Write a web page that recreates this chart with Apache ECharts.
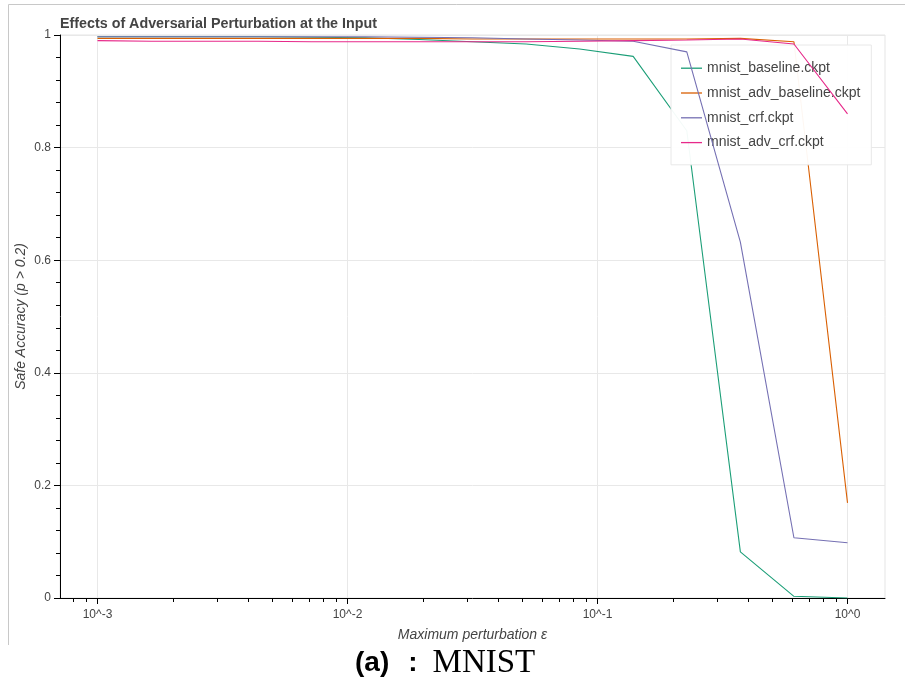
<!DOCTYPE html>
<html><head><meta charset="utf-8">
<script src="https://cdn.jsdelivr.net/npm/echarts@6/dist/echarts.min.js"></script>
<style>html,body{margin:0;padding:0;background:#fff}#c{width:905px;height:686px}</style>
</head><body><div id="c"></div>
<script>
// Data
const epsilons = [0.001, 0.00164, 0.00268, 0.00439, 0.0072, 0.01179, 0.0193, 0.0316, 0.0518, 0.0848, 0.1389, 0.2276, 0.3728, 0.6105, 1.0];
const seriesNames = ['mnist_baseline.ckpt', 'mnist_adv_baseline.ckpt', 'mnist_crf.ckpt', 'mnist_adv_crf.ckpt'];
const mnistBaseline   = [0.997, 0.997, 0.997, 0.997, 0.996, 0.995, 0.992, 0.988, 0.984, 0.975, 0.962, 0.83, 0.082, 0.003, 0.0];
const mnistAdvBaseline= [0.994, 0.994, 0.994, 0.994, 0.994, 0.994, 0.994, 0.993, 0.993, 0.993, 0.993, 0.993, 0.994, 0.988, 0.169];
const mnistCrf        = [0.997, 0.997, 0.997, 0.997, 0.997, 0.997, 0.996, 0.995, 0.993, 0.991, 0.989, 0.970, 0.632, 0.107, 0.098];
const mnistAdvCrf     = [0.990, 0.989, 0.989, 0.989, 0.988, 0.988, 0.988, 0.988, 0.988, 0.989, 0.990, 0.991, 0.993, 0.984, 0.86];
const xMajorTicks = [0.001, 0.01, 0.1, 1];
const xMinorTicks = [0.0008, 0.0009,
  0.002, 0.003, 0.004, 0.005, 0.006, 0.007, 0.008, 0.009,
  0.02, 0.03, 0.04, 0.05, 0.06, 0.07, 0.08, 0.09,
  0.2, 0.3, 0.4, 0.5, 0.6, 0.7, 0.8, 0.9];
const xTickLabels = ['10^-3', '10^-2', '10^-1', '10^0'];
const colors = ['#1b9e77', '#d95f02', '#7570b3', '#e7298a'];

const FONT = '"Liberation Sans", Helvetica, Arial, sans-serif';
const allValues = [mnistBaseline, mnistAdvBaseline, mnistCrf, mnistAdvCrf];

const chart = echarts.init(document.getElementById('c'), null, {renderer: 'canvas'});
chart.setOption({
  animation: false,
  backgroundColor: '#fff',
  textStyle: {fontFamily: FONT},
  title: {
    text: 'Effects of Adversarial Perturbation at the Input',
    left: 55, top: 12,
    textStyle: {fontSize: 14.3, fontWeight: 'bold', color: '#444', fontFamily: FONT}
  },
  grid: {left: 60, right: 20, top: 35, bottom: 88, show: true, borderColor: '#e5e5e5', borderWidth: 1, backgroundColor: 'transparent'},
  legend: {
    orient: 'vertical', left: 671, top: 45,
    padding: [15, 11, 14, 10],
    icon: 'rect',
    itemWidth: 21, itemHeight: 1.3, itemGap: 8.4,
    backgroundColor: 'rgba(255,255,255,0.95)',
    borderColor: '#e8e8e8', borderWidth: 1,
    textStyle: {fontSize: 14, color: '#444', fontFamily: FONT, lineHeight: 16.4},
    data: seriesNames
  },
  xAxis: [{
    type: 'log', logBase: 10, min: 0.000708, max: 1.4125,
    name: 'Maximum perturbation ε', nameLocation: 'middle', nameGap: 30,
    nameTextStyle: {fontStyle: 'italic', fontSize: 14, color: '#444', fontFamily: FONT},
    axisLine: {show: true, lineStyle: {color: '#000', width: 1}},
    axisTick: {show: true, length: 6, customValues: xMajorTicks, lineStyle: {color: '#000'}},
    axisLabel: {
      customValues: xMajorTicks, margin: 11, fontSize: 12, color: '#444', fontFamily: FONT,
      formatter: v => xTickLabels[xMajorTicks.findIndex(t => Math.abs(t - v) / t < 1e-6)] || ''
    },
    splitLine: {show: true, lineStyle: {color: '#e8e8e8', width: 1}},
    minorTick: {show: false}
  }, {
    type: 'log', logBase: 10, min: 0.000708, max: 1.4125, position: 'bottom',
    axisLine: {show: false},
    axisTick: {show: true, length: 4, customValues: xMinorTicks, lineStyle: {color: '#000'}},
    axisLabel: {show: false},
    splitLine: {show: false}
  }],
  yAxis: {
    type: 'value', min: 0, max: 1, interval: 0.2,
    name: 'Safe Accuracy (p > 0.2)', nameLocation: 'middle', nameGap: 32, nameMoveOverlap: false,
    nameTextStyle: {fontStyle: 'italic', fontSize: 14, color: '#444', fontFamily: FONT},
    axisLine: {show: true, lineStyle: {color: '#000', width: 1}},
    axisTick: {show: true, length: 6, lineStyle: {color: '#000'}},
    minorTick: {show: true, splitNumber: 5, length: 4, lineStyle: {color: '#000'}},
    axisLabel: {fontSize: 12, color: '#444', margin: 9, fontFamily: FONT},
    splitLine: {show: true, lineStyle: {color: '#e8e8e8', width: 1}}
  },
  series: seriesNames.map((name, i) => ({
    name: name, type: 'line', xAxisIndex: 0,
    symbol: 'none', z: 2 + i,
    lineStyle: {color: colors[i], width: 1.1},
    itemStyle: {color: colors[i]},
    data: epsilons.map((e, j) => [e, allValues[i][j]])
  })),
  graphic: [
    {type: 'line', shape: {x1: 8.5, y1: 4.5, x2: 905, y2: 4.5}, style: {stroke: '#c8c8c8', lineWidth: 1}, silent: true},
    {type: 'line', shape: {x1: 8.5, y1: 4.5, x2: 8.5, y2: 645}, style: {stroke: '#c8c8c8', lineWidth: 1}, silent: true},
    {type: 'text', x: 355, y: 647, silent: true,
     style: {
       text: '{a|(a)}{c|:}{m|MNIST}',
       rich: {
         a: {fontSize: 28, fontWeight: 'bold', fontFamily: FONT, fill: '#000'},
         c: {fontSize: 28, fontWeight: 'bold', fontFamily: FONT, fill: '#000', padding: [0, 15, 0, 19]},
         m: {fontSize: 33, fontFamily: '"Liberation Serif", "DejaVu Serif", serif', fill: '#000'}
       }
     }}
  ]
});
</script>
</body></html>
